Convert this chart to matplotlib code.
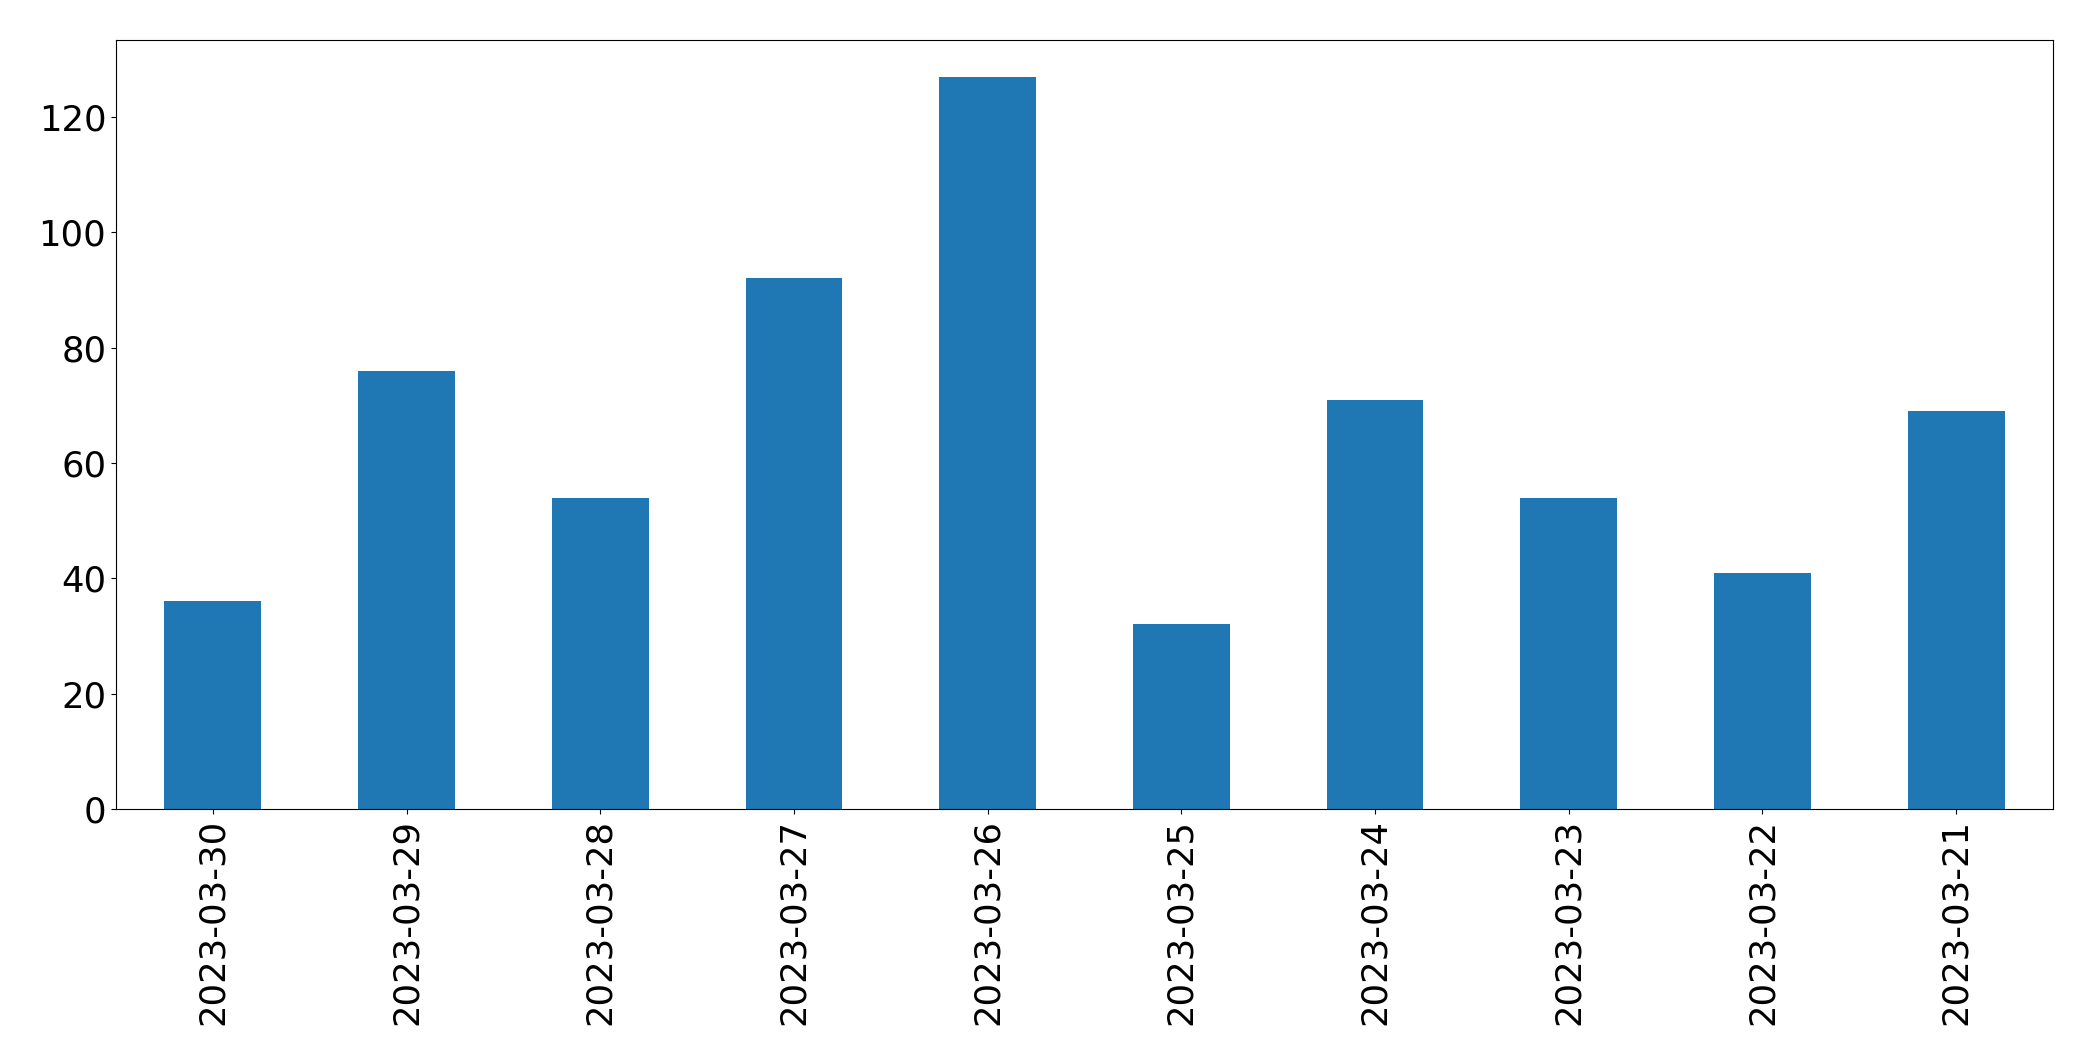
import matplotlib
matplotlib.use("Agg")
import matplotlib.pyplot as plt
import numpy as np

dates = ["2023-03-30", "2023-03-29", "2023-03-28", "2023-03-27", "2023-03-26",
         "2023-03-25", "2023-03-24", "2023-03-23", "2023-03-22", "2023-03-21"]
counts = [36, 76, 54, 92, 127, 32, 71, 54, 41, 69]


def main():
  fig = plt.figure(figsize=(20.93, 10.61), dpi=100)
  ax = fig.add_axes([116 / 2093, 1 - 809 / 1061, (2053 - 116) / 2093, (809 - 40) / 1061])

  x = np.arange(len(dates))
  ax.bar(x, counts, width=0.5, color="#1f77b4")
  ax.set_xlim(-0.5, len(dates) - 0.5)
  ax.set_ylim(0, max(counts) * 1.05)
  ax.set_xticks(x)
  ax.set_xticklabels(dates, rotation=90)
  ax.tick_params(axis="both", labelsize=25.5)

  fig.savefig("out.png", dpi=100)


if __name__ == "__main__":
  main()
